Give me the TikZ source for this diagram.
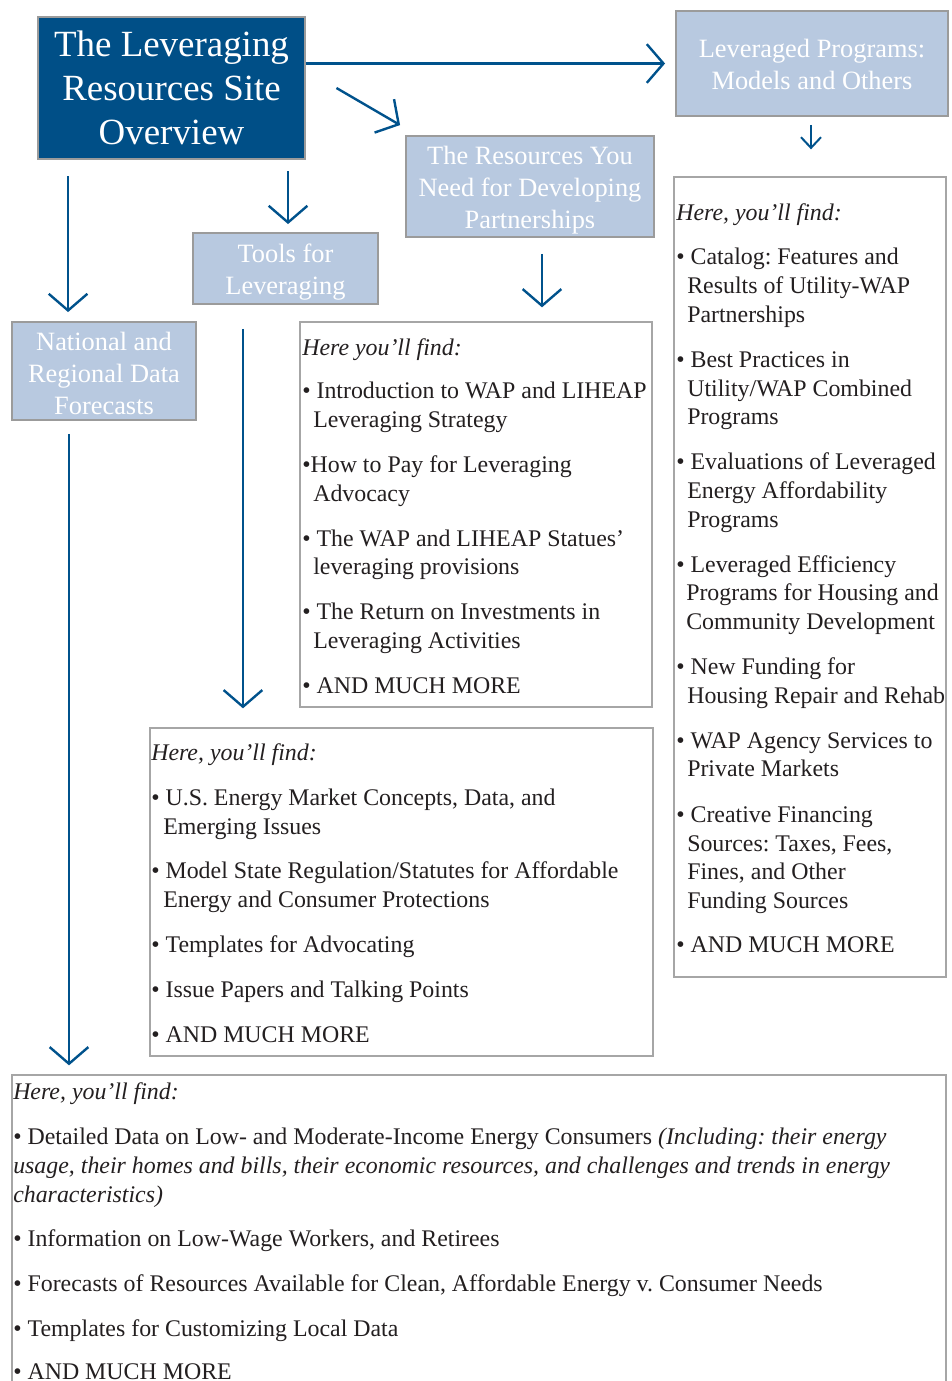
\documentclass[tikz,border=0pt]{standalone}
\usepackage{fontspec}
\setmainfont{Liberation Serif}
\usetikzlibrary{arrows.meta}
\definecolor{dkblue}{RGB}{0,79,135}
\definecolor{arrblue}{RGB}{0,82,140}
\definecolor{ltblue}{RGB}{184,201,224}
\definecolor{bordgray}{RGB}{155,155,155}
\definecolor{boxgray}{RGB}{166,166,166}
\definecolor{txtc}{RGB}{35,31,32}
\newcommand\tline[4]{\node[txt] (#1) at (#2,#3) {#4};}
\tikzset{
  titlebox/.style={draw=bordgray, line width=2.2pt, fill=dkblue, text=white, align=center,
    font=\fontsize{27.7pt}{33pt}\selectfont, inner sep=0pt},
  headbox/.style={draw=bordgray, line width=1.4pt, fill=ltblue, inner sep=0pt},
  headtxt/.style={text=white, align=center, inner sep=0pt,
    font=\fontsize{19.8pt}{24pt}\selectfont},
  contbox/.style={draw=boxgray, line width=1pt, inner sep=0pt},
  txt/.style={text=txtc, inner sep=0pt, anchor=mid west, yshift=-3.75pt,
    font=\fontsize{17.9pt}{21.75pt}\selectfont\frenchspacing},
  arr/.style={draw=arrblue, line width=1.8pt, -{Straight Barb[length=12.5pt, width=29pt, line width=1.8pt]}},
  sarr/.style={draw=arrblue, line width=1.5pt, -{Straight Barb[length=8pt, width=15pt, line width=1.5pt]}}
}
\begin{document}
\begin{tikzpicture}[x=0.75pt, y=-0.75pt]
\useasboundingbox (0,0) rectangle (951,1381);
\clip (0,0) rectangle (951,1381);

% heading boxes
\node[titlebox, minimum width=200.25pt, minimum height=106.5pt] (title) at (171.5,88)
  {The Leveraging\\Resources Site\\Overview};
\node[headbox, minimum width=204pt, minimum height=78.75pt] (lev) at (812,63.5) {};
\node[headtxt] (levt) at ([yshift=-0.75pt]lev.center) {Leveraged Programs:\\Models and Others};
\node[headbox, minimum width=186pt, minimum height=75.75pt] (res) at (530,186.5) {};
\node[headtxt] (rest) at ([yshift=-3pt]res.center) {The Resources You\\Need for Developing\\Partnerships};
\node[headbox, minimum width=138.75pt, minimum height=53.25pt] (tools) at (285.5,268.5) {};
\node[headtxt] (toolst) at ([yshift=-3pt]tools.center) {Tools for\\Leveraging};
\node[headbox, minimum width=138pt, minimum height=73.5pt] (nat) at (104,371) {};
\node[headtxt] (natt) at ([yshift=-1.5pt]nat.center) {National and\\Regional Data\\Forecasts};

% content boxes
\node[contbox, minimum width=264pt, minimum height=288.75pt] (c1) at (476,514.5) {};
\node[contbox, minimum width=377.25pt, minimum height=246pt] (c2) at (401.5,892) {};
\node[contbox, minimum width=204pt, minimum height=600pt] (c3) at (810,577) {};
\node[contbox, minimum width=700.5pt, minimum height=243.75pt] (c4) at (479,1237.5) {};

% arrows
\draw[arr, shorten >=7.5pt] (title.east |- lev.west) -- (lev.west);
\draw[arr] ([xshift=22.5pt]title.east) -- ([xshift=-3.75pt,yshift=7.5pt]res.north west);
\draw[arr, shorten <=8.25pt, shorten >=6pt] ([xshift=1.9pt]tools.north |- title.south) -- ([xshift=1.9pt]tools.north);
\draw[arr, shorten <=12pt, shorten >=6.75pt] ([xshift=42.75pt]nat.north west |- title.south) -- ([xshift=42.75pt]nat.north west);
\draw[sarr, shorten <=6pt, shorten >=20.25pt] ([xshift=-0.75pt]lev.south) -- ([xshift=-0.75pt]lev.south |- c3.north);
\draw[arr, shorten <=12pt, shorten >=10.5pt] ([xshift=9pt]res.south) -- ([xshift=9pt]res.south |- c1.north);
\draw[arr, shorten <=18pt, shorten >=14.25pt] ([xshift=-31.9pt]tools.south) -- ([xshift=-31.9pt]tools.south |- c2.north);
\draw[arr, shorten <=9.75pt, shorten >=6.75pt] ([xshift=-26.25pt]nat.south) -- ([xshift=-26.25pt]nat.south |- c4.north);

% box 1 text
\tline{a0}{302}{347}{\textit{Here you’ll find:}}
\tline{a1}{302}{390}{• Introduction to WAP and LIHEAP}
\tline{a2}{313}{419}{Leveraging Strategy}
\tline{a3}{302}{464}{•How to Pay for Leveraging}
\tline{a4}{313}{493}{Advocacy}
\tline{a5}{302}{538}{• The WAP and LIHEAP Statues’}
\tline{a6}{313}{566}{leveraging provisions}
\tline{a7}{302}{611}{• The Return on Investments in}
\tline{a8}{313}{640}{Leveraging Activities}
\tline{a9}{302}{685}{• AND MUCH MORE}

% box 2 text
\tline{b0}{151}{752}{\textit{Here, you’ll find:}}
\tline{b1}{151}{797}{• U.S. Energy Market Concepts, Data, and}
\tline{b2}{163}{826}{Emerging Issues}
\tline{b3}{151}{870}{• Model State Regulation/Statutes for Affordable}
\tline{b4}{163}{899}{Energy and Consumer Protections}
\tline{b5}{151}{944}{• Templates for Advocating}
\tline{b6}{151}{989}{• Issue Papers and Talking Points}
\tline{b7}{151}{1034}{• AND MUCH MORE}

% box 3 text
\tline{e0}{676}{212}{\textit{Here, you’ll find:}}
\tline{e1}{676}{256}{• Catalog: Features and}
\tline{e2}{687}{285}{Results of Utility-WAP}
\tline{e3}{687}{314}{Partnerships}
\tline{e4}{676}{359}{• Best Practices in}
\tline{e5}{687}{388}{Utility/WAP Combined}
\tline{e6}{687}{416}{Programs}
\tline{e7}{676}{461}{• Evaluations of Leveraged}
\tline{e8}{687}{490}{Energy Affordability}
\tline{e9}{687}{519}{Programs}
\tline{e10}{676}{564}{• Leveraged Efficiency}
\tline{e11}{686}{592}{Programs for Housing and}
\tline{e12}{686}{621}{Community Development}
\tline{e13}{676}{666}{• New Funding for}
\tline{e14}{687}{695}{Housing Repair and Rehab}
\tline{e15}{676}{740}{• WAP Agency Services to}
\tline{e16}{687}{768}{Private Markets}
\tline{e17}{676}{814}{• Creative Financing}
\tline{e18}{687}{843}{Sources: Taxes, Fees,}
\tline{e19}{687}{871}{Fines, and Other}
\tline{e20}{687}{900}{Funding Sources}
\tline{e21}{676}{944}{• AND MUCH MORE}

% box 4 text
\tline{f0}{13}{1091}{\textit{Here, you’ll find:}}
\tline{f1}{13}{1136}{• Detailed Data on Low- and Moderate-Income Energy Consumers \textit{(Including: their energy}}
\tline{f2}{13}{1165}{\textit{usage, their homes and bills, their economic resources, and challenges and trends in energy}}
\tline{f3}{13}{1194}{\textit{characteristics)}}
\tline{f4}{13}{1238}{• Information on Low-Wage Workers, and Retirees}
\tline{f5}{13}{1283}{• Forecasts of Resources Available for Clean, Affordable Energy v. Consumer Needs}
\tline{f6}{13}{1328}{• Templates for Customizing Local Data}
\tline{f7}{13}{1371}{• AND MUCH MORE}
\end{tikzpicture}
\end{document}
